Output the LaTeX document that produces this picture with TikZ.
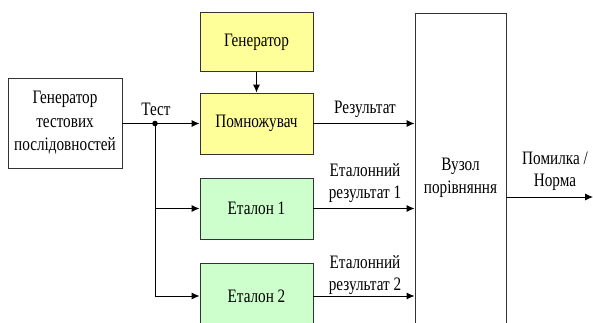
\documentclass[tikz,border=0pt]{standalone}
\usepackage{fontspec}
\setmainfont{Liberation Serif}[FakeStretch=0.8]
\usetikzlibrary{arrows.meta}
\definecolor{boxyellow}{HTML}{FFFF99}
\definecolor{boxgreen}{HTML}{CCFFCC}
\definecolor{edgegray}{HTML}{333333}
\tikzset{
  blk/.style={draw=edgegray, line width=0.9pt, minimum width=113pt, inner sep=0pt, align=center,
    font=\fontsize{19}{23.5}\selectfont},
  lbl/.style={inner sep=0pt, align=center, font=\fontsize{19}{22}\selectfont},
  arr/.style={line width=0.9pt, -{Latex[length=8pt,width=7pt]}},
  ln/.style={line width=0.9pt}
}
\begin{document}
\begin{tikzpicture}[x=1pt,y=-1pt]
\useasboundingbox (0,0) rectangle (593,322);
\clip (0,0) rectangle (593,322);
\node[blk, minimum width=114pt, minimum height=90pt] (src) at (65,123) {Генератор\\тестових\\послідовностей};
\node[blk, fill=boxyellow, minimum height=59pt] (gen) at (256.5,42) {Генератор};
\node[blk, fill=boxyellow, minimum height=61pt] (mul) at (256.5,123.5) {Помножувач};
\node[blk, fill=boxgreen, minimum height=61pt] (et1) at (256.5,208.5) {Еталон 1};
\node[blk, fill=boxgreen, minimum height=66pt] (et2) at (256.5,296) {Еталон 2};
\node[blk, minimum width=91pt, minimum height=330pt] (cmp) at (460.5,178) {Вузол\\порівняння};
\coordinate (j) at (155,123.5);
\coordinate (out) at (593,197);
\draw[arr] (src.east |- j) -- (mul.west);
\fill (j) circle (2.8pt);
\draw[ln] (j) -- (j |- et2.west);
\draw[arr] (j |- et1.west) -- (et1.west);
\draw[arr] (j |- et2.west) -- (et2.west);
\draw[arr] (gen.south) -- (mul.north);
\draw[arr] (mul.east) -- (cmp.west |- mul.east);
\draw[arr] (et1.east) -- (cmp.west |- et1.east);
\draw[arr] (et2.east) -- (cmp.west |- et2.east);
\draw[arr] (cmp.east |- out) -- (out);
\node[lbl] (ltest) at (156,109) {Тест};
\node[lbl] (lres) at (365,109) {Результат};
\node[lbl] (le1) at (365,183) {Еталонний\\результат 1};
\node[lbl] (le2) at (365,275) {Еталонний\\результат 2};
\node[lbl] (lout) at (555,171) {Помилка /\\Норма};
\end{tikzpicture}
\end{document}
